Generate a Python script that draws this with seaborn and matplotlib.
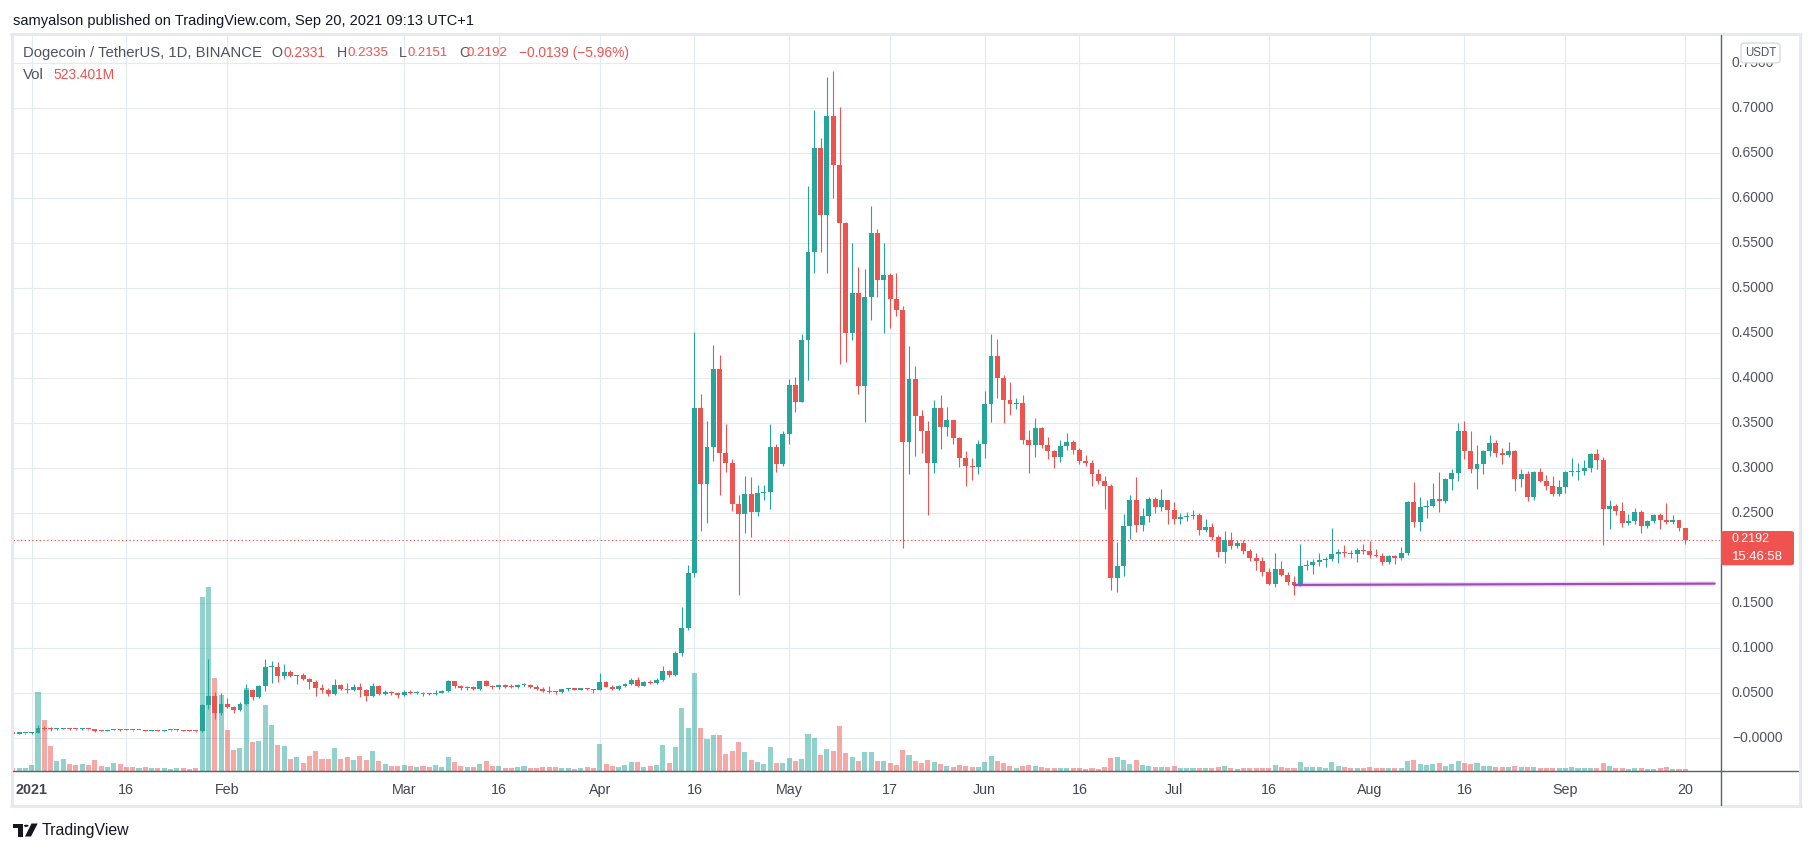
import numpy as np
import pandas as pd
import matplotlib
matplotlib.use("Agg")
import matplotlib.pyplot as plt
import matplotlib.dates as mdates
import matplotlib.transforms as mtrans
from matplotlib import font_manager
from matplotlib.lines import Line2D
from matplotlib.patches import FancyBboxPatch, Polygon, Circle
import seaborn as sns

# ---------------- data (DOGE/USDT, 1D, Binance) ----------------
first_open = 0.0047
close = [
    0.0046, 0.0047, 0.0047,  # Dec 29-31
    0.0057, 0.0105, 0.0098, 0.0096, 0.0099, 0.0103, 0.0096, 0.0093, 0.0101, 0.0094, 0.0076, 0.0075, 0.0082, 0.0089, 0.0084, 0.0083,
    0.0082, 0.0085, 0.0079, 0.0082, 0.0076, 0.0080, 0.0081, 0.0082, 0.0078, 0.0076, 0.0070, 0.0363, 0.0463, 0.0274, 0.0374,
    0.0341, 0.0308, 0.0374, 0.0530, 0.0452, 0.0574, 0.0785, 0.0790, 0.0685, 0.0730, 0.0685, 0.0696, 0.0652, 0.0619,
    0.0552, 0.0530, 0.0485, 0.0585, 0.0541, 0.0530, 0.0563, 0.0530, 0.0463, 0.0574, 0.0485, 0.0507, 0.0496, 0.0474,
    0.0507, 0.0496, 0.0502, 0.0485, 0.0480, 0.0500, 0.0518, 0.0630, 0.0574, 0.0552, 0.0563, 0.0541, 0.0630, 0.0574, 0.0563, 0.0585,
    0.0563, 0.0560, 0.0585, 0.0590, 0.0563, 0.0541, 0.0519, 0.0507, 0.0505, 0.0541, 0.0545, 0.0535, 0.0542, 0.0537, 0.0530,
    0.0615, 0.0565, 0.0541, 0.0570, 0.0596, 0.0641, 0.0574, 0.0619, 0.0612, 0.0641, 0.0741, 0.0696, 0.0937, 0.1219, 0.1830,
    0.3663, 0.2819, 0.3230, 0.4096, 0.3163, 0.3052, 0.2596, 0.2489, 0.2707, 0.2507, 0.2719, 0.2730, 0.3230, 0.3044, 0.3374,
    0.3919, 0.3734, 0.4419, 0.5397, 0.6552, 0.5811, 0.6908, 0.6367, 0.5715, 0.4500, 0.4941, 0.3912, 0.4896, 0.5608, 0.5089, 0.5141,
    0.4878, 0.4756, 0.3285, 0.3985, 0.3574, 0.3407, 0.3056, 0.3663, 0.3456, 0.3530, 0.3333, 0.3111, 0.3022, 0.3011, 0.3263,
    0.3707, 0.4241, 0.4000, 0.3756, 0.3711, 0.3722, 0.3311, 0.3256, 0.3441, 0.3256, 0.3189, 0.3122, 0.3241, 0.3285, 0.3200,
    0.3078, 0.3056, 0.2933, 0.2856, 0.2800, 0.1778, 0.1907, 0.2352, 0.2641, 0.2367, 0.2463, 0.2652, 0.2563, 0.2641, 0.2530,
    0.2433, 0.2452, 0.2467, 0.2470, 0.2311, 0.2340, 0.2233, 0.2067, 0.2196, 0.2133, 0.2163, 0.2078, 0.2000, 0.1967, 0.1844, 0.1711,
    0.1874, 0.1811, 0.1733, 0.1700, 0.1907, 0.1920, 0.1950, 0.1975, 0.1985, 0.2040, 0.2063, 0.2055, 0.2045, 0.2085, 0.2070,
    0.2030, 0.2020, 0.1956, 0.2019, 0.2000, 0.2052, 0.2620, 0.2396, 0.2563, 0.2574, 0.2650, 0.2634, 0.2874, 0.2940, 0.3408, 0.3189,
    0.2986, 0.3040, 0.3185, 0.3274, 0.3167, 0.3144, 0.3185, 0.2878, 0.2926, 0.2678, 0.2952, 0.2856, 0.2800, 0.2707, 0.2785,
    0.2952, 0.2955, 0.2963, 0.2996, 0.3152, 0.3089, 0.2545, 0.2574, 0.2522, 0.2389, 0.2407, 0.2504, 0.2356, 0.2407, 0.2474,
    0.2415, 0.2396, 0.2419, 0.2331, 0.2192,
]
high = [
    0.0048, 0.0049, 0.0050,
    0.0059, 0.0140, 0.0135, 0.0115, 0.0105, 0.0106, 0.0107, 0.0100, 0.0103, 0.0102, 0.0095, 0.0082, 0.0083, 0.0092, 0.0092, 0.0092,
    0.0086, 0.0086, 0.0089, 0.0087, 0.0084, 0.0081, 0.0083, 0.0084, 0.0084, 0.0080, 0.0078, 0.0375, 0.0874, 0.0507, 0.0493,
    0.0441, 0.0352, 0.0396, 0.0596, 0.0541, 0.0590, 0.0874, 0.0852, 0.0841, 0.0819, 0.0752, 0.0700, 0.0719, 0.0663,
    0.0641, 0.0596, 0.0552, 0.0652, 0.0596, 0.0607, 0.0596, 0.0607, 0.0541, 0.0607, 0.0585, 0.0530, 0.0518, 0.0507,
    0.0530, 0.0530, 0.0518, 0.0510, 0.0500, 0.0530, 0.0530, 0.0641, 0.0630, 0.0590, 0.0574, 0.0574, 0.0635, 0.0641, 0.0585, 0.0596,
    0.0596, 0.0596, 0.0596, 0.0607, 0.0596, 0.0585, 0.0563, 0.0574, 0.0519, 0.0545, 0.0555, 0.0555, 0.0555, 0.0550, 0.0545,
    0.0719, 0.0630, 0.0590, 0.0580, 0.0605, 0.0663, 0.0674, 0.0625, 0.0641, 0.0663, 0.0796, 0.0752, 0.0967, 0.1456, 0.1915,
    0.4504, 0.3819, 0.3519, 0.4363, 0.4252, 0.3485, 0.3096, 0.2696, 0.2907, 0.2896, 0.2807, 0.2807, 0.3485, 0.3263, 0.3407,
    0.3985, 0.4008, 0.4486, 0.6130, 0.6974, 0.6663, 0.7341, 0.7408, 0.7008, 0.5730, 0.5497, 0.5230, 0.5208, 0.5908, 0.5652, 0.5497,
    0.5163, 0.5163, 0.4796, 0.4352, 0.4130, 0.3640, 0.3520, 0.3752, 0.3807, 0.3674, 0.3530, 0.3340, 0.3181, 0.3107, 0.3307,
    0.3852, 0.4485, 0.4430, 0.4030, 0.3952, 0.3774, 0.3807, 0.3419, 0.3552, 0.3456, 0.3340, 0.3196, 0.3307, 0.3385, 0.3307,
    0.3215, 0.3141, 0.3085, 0.2985, 0.2907, 0.2819, 0.2174, 0.2485, 0.2696, 0.2896, 0.2552, 0.2674, 0.2674, 0.2763, 0.2641,
    0.2619, 0.2496, 0.2507, 0.2530, 0.2496, 0.2430, 0.2385, 0.2252, 0.2300, 0.2285, 0.2193, 0.2193, 0.2100, 0.2052, 0.2011, 0.1885,
    0.2052, 0.1963, 0.1841, 0.1800, 0.2150, 0.1970, 0.1990, 0.2050, 0.2007, 0.2333, 0.2100, 0.2140, 0.2080, 0.2110, 0.2150,
    0.2190, 0.2100, 0.2050, 0.2030, 0.2030, 0.2120, 0.2635, 0.2845, 0.2674, 0.2640, 0.2830, 0.2950, 0.2885, 0.2990, 0.3500, 0.3523,
    0.3408, 0.3250, 0.3197, 0.3363, 0.3310, 0.3220, 0.3285, 0.3196, 0.2989, 0.2960, 0.2960, 0.2996, 0.2918, 0.2904, 0.2867,
    0.2960, 0.3107, 0.3056, 0.3085, 0.3160, 0.3207, 0.3118, 0.2641, 0.2596, 0.2619, 0.2485, 0.2552, 0.2530, 0.2419, 0.2485,
    0.2493, 0.2608, 0.2474, 0.2419, 0.2335,
]
low = [
    0.0045, 0.0045, 0.0044,
    0.0046, 0.0055, 0.0090, 0.0078, 0.0088, 0.0092, 0.0090, 0.0082, 0.0091, 0.0086, 0.0066, 0.0070, 0.0070, 0.0080, 0.0079, 0.0081,
    0.0076, 0.0080, 0.0077, 0.0075, 0.0070, 0.0071, 0.0078, 0.0079, 0.0077, 0.0072, 0.0068, 0.0068, 0.0315, 0.0207, 0.0255,
    0.0330, 0.0271, 0.0300, 0.0363, 0.0419, 0.0441, 0.0519, 0.0607, 0.0619, 0.0652, 0.0674, 0.0596, 0.0641, 0.0541,
    0.0463, 0.0497, 0.0463, 0.0474, 0.0530, 0.0497, 0.0519, 0.0452, 0.0408, 0.0452, 0.0474, 0.0474, 0.0474, 0.0441,
    0.0463, 0.0485, 0.0485, 0.0463, 0.0474, 0.0478, 0.0495, 0.0507, 0.0552, 0.0530, 0.0530, 0.0530, 0.0535, 0.0570, 0.0541, 0.0541,
    0.0552, 0.0555, 0.0552, 0.0578, 0.0552, 0.0530, 0.0510, 0.0497, 0.0485, 0.0497, 0.0522, 0.0525, 0.0525, 0.0525, 0.0497,
    0.0528, 0.0560, 0.0535, 0.0530, 0.0560, 0.0585, 0.0563, 0.0570, 0.0600, 0.0600, 0.0630, 0.0674, 0.0690, 0.0907, 0.1200,
    0.1785, 0.2300, 0.2385, 0.3074, 0.2696, 0.2952, 0.2519, 0.1589, 0.2278, 0.2233, 0.2467, 0.2644, 0.2541, 0.2952, 0.3020,
    0.3263, 0.3623, 0.3734, 0.3974, 0.5167, 0.5401, 0.5167, 0.6000, 0.4156, 0.4178, 0.4422, 0.3823, 0.3512, 0.4645, 0.4900, 0.4500,
    0.4556, 0.4680, 0.2111, 0.2930, 0.3133, 0.3163, 0.2474, 0.2944, 0.3210, 0.3356, 0.3267, 0.3004, 0.2800, 0.2867, 0.2933,
    0.3111, 0.3511, 0.3770, 0.3500, 0.3589, 0.3656, 0.3267, 0.2944, 0.3122, 0.3222, 0.3100, 0.3000, 0.3067, 0.3200, 0.3156,
    0.3044, 0.3022, 0.2800, 0.2819, 0.2541, 0.1644, 0.1622, 0.1800, 0.2211, 0.2289, 0.2300, 0.2400, 0.2500, 0.2522, 0.2374,
    0.2374, 0.2378, 0.2411, 0.2430, 0.2256, 0.2289, 0.2200, 0.2011, 0.1944, 0.2093, 0.2104, 0.2037, 0.1967, 0.1867, 0.1800, 0.1700,
    0.1678, 0.1800, 0.1700, 0.1589, 0.1680, 0.1860, 0.1820, 0.1910, 0.1900, 0.1960, 0.1940, 0.2010, 0.2000, 0.1950, 0.2045,
    0.1997, 0.2010, 0.1920, 0.1930, 0.1930, 0.1975, 0.2030, 0.2340, 0.2300, 0.2445, 0.2560, 0.2510, 0.2612, 0.2750, 0.2856, 0.3097,
    0.2945, 0.2763, 0.2930, 0.3130, 0.3122, 0.3045, 0.3122, 0.2745, 0.2789, 0.2633, 0.2640, 0.2845, 0.2752, 0.2685, 0.2685,
    0.2719, 0.2907, 0.2863, 0.2919, 0.2952, 0.2989, 0.2144, 0.2322, 0.2478, 0.2344, 0.2363, 0.2374, 0.2274, 0.2333, 0.2389,
    0.2318, 0.2378, 0.2374, 0.2296, 0.2151,
]
# volume in billions of DOGE (last bar = 523.401M)
volume = [
    0.68, 0.68, 0.68,
    1.4, 17.9, 11.6, 5.7, 2.3, 2.7, 1.6, 1.4, 1.6, 1.4, 2.5, 1.1, 0.91, 1.8, 1.6, 0.91,
    0.91, 0.68, 0.91, 0.68, 0.68, 0.68, 0.45, 0.68, 0.68, 0.45, 0.68, 39.5, 41.8, 21.1, 17.3,
    9.3, 4.8, 5.2, 18.8, 6.6, 6.8, 15.0, 10.4, 5.9, 5.7, 2.7, 3.2, 1.8, 3.4,
    4.5, 2.7, 2.7, 5.2, 2.7, 3.2, 2.5, 3.4, 2.5, 4.5, 2.3, 1.6, 1.1, 1.1,
    1.4, 1.1, 0.91, 1.1, 0.91, 1.4, 0.91, 3.2, 2.0, 1.1, 0.91, 0.91, 1.6, 2.3, 1.1, 1.1,
    0.68, 0.68, 0.91, 1.1, 0.68, 0.68, 0.91, 0.91, 0.91, 0.68, 0.68, 0.45, 0.68, 0.91, 0.68,
    6.1, 1.6, 1.1, 0.91, 1.4, 2.0, 2.0, 0.91, 1.1, 1.4, 5.9, 1.8, 5.4, 14.3, 9.8,
    22.2, 9.8, 7.3, 8.2, 8.2, 3.9, 4.5, 6.6, 4.3, 2.5, 2.0, 1.6, 5.4, 1.8, 1.8,
    3.0, 2.3, 2.7, 8.4, 7.5, 3.6, 5.0, 4.5, 10.2, 4.1, 3.2, 2.3, 4.3, 4.3, 2.3, 2.3,
    1.8, 1.4, 4.8, 3.6, 2.3, 1.8, 2.5, 2.0, 1.6, 1.1, 0.91, 1.4, 1.1, 0.91, 0.91,
    2.0, 3.4, 2.3, 1.8, 1.1, 0.68, 1.1, 1.4, 1.1, 0.91, 0.68, 0.68, 0.68, 0.68, 0.68,
    0.68, 0.45, 0.68, 0.45, 0.91, 3.0, 3.2, 2.5, 1.6, 2.5, 1.4, 1.1, 0.91, 0.91, 0.91,
    1.1, 0.68, 0.68, 0.68, 0.68, 0.68, 0.68, 0.91, 1.1, 0.68, 0.45, 0.68, 0.68, 0.68, 0.68, 0.68,
    1.4, 0.91, 0.68, 0.68, 2.0, 0.91, 0.91, 0.91, 0.68, 2.0, 1.1, 0.91, 0.68, 0.68, 0.68,
    0.91, 0.68, 0.68, 0.68, 0.68, 0.68, 2.3, 2.5, 1.6, 1.4, 1.6, 1.8, 1.1, 1.6, 2.3, 1.8,
    1.6, 1.8, 1.1, 1.1, 0.91, 0.91, 0.91, 1.1, 0.91, 0.91, 0.91, 0.68, 0.68, 0.68, 0.68,
    0.68, 0.91, 0.68, 0.68, 0.68, 0.68, 1.8, 1.1, 0.68, 0.68, 0.45, 0.68, 0.68, 0.45, 0.45,
    0.68, 0.91, 0.45, 0.45, 0.523,
]
tick_dates = ["2021-01-01", "2021-01-16", "2021-02-01", "2021-03-01", "2021-03-16", "2021-04-01",
              "2021-04-16", "2021-05-01", "2021-05-17", "2021-06-01", "2021-06-16", "2021-07-01",
              "2021-07-16", "2021-08-01", "2021-08-16", "2021-09-01", "2021-09-20"]
tick_labels = ["2021", "16", "Feb", "Mar", "16", "Apr", "16", "May", "17", "Jun", "16", "Jul",
               "16", "Aug", "16", "Sep", "20"]
price_ticks = [0.00, 0.05, 0.10, 0.15, 0.20, 0.25, 0.30, 0.35, 0.40, 0.45, 0.50, 0.55, 0.60, 0.65, 0.70, 0.75]
support_dates = ["2021-07-20 00:00", "2021-09-24 16:00"]
support_prices = [0.1697, 0.1712]

dates = pd.date_range("2020-12-29", "2021-09-20", freq="D")
close = np.array(close); high = np.array(high); low = np.array(low); volume = np.array(volume)
assert len(close) == len(high) == len(low) == len(volume) == len(dates)
opens = np.r_[first_open, close[:-1]]

# ---------------- style ----------------
UP, DOWN = "#26a69a", "#ef5350"
GRID = "#e2ebf1"
AXIS_TXT = "#50535e"
PURPLE = "#a24bbd"

sns.set_style("white")
names = {f.name for f in font_manager.fontManager.ttflist}
FONT = "Liberation Sans" if "Liberation Sans" in names else "DejaVu Sans"
plt.rcParams["font.family"] = [FONT, "DejaVu Sans"]

W, H, DPI = 1813, 851, 100
fig = plt.figure(figsize=(W / DPI, H / DPI), dpi=DPI)
fig.patch.set_facecolor("white")
renderer = fig.canvas.get_renderer()


def fx(x):
    return x / W


def fy(y):
    return 1 - y / H


PX = 72 / DPI  # points per pixel
L, R, T, B = 12.5, 1720, 34.5, 771
ax = fig.add_axes([fx(L), fy(B), fx(R) - fx(L), fy(T) - fy(B)])

jan1 = mdates.date2num(pd.Timestamp("2021-01-01"))
ax.set_xlim(jan1 - 3.04, jan1 + 267.5)
ymin, ymax = -0.0370, 0.7813
ax.set_ylim(ymin, ymax)

xs = mdates.date2num(dates)
up = close >= opens
cols = np.where(up, UP, DOWN)

# volume overlay (bottom quarter of the pane)
vol_h = volume / volume.max() * 0.2498 * (ymax - ymin)
vcols = [(0.149, 0.651, 0.604, 0.5) if u else (0.937, 0.325, 0.314, 0.5) for u in up]
ax.bar(xs, vol_h, bottom=ymin, width=0.8, color=vcols, linewidth=0, zorder=1)

# candles
ax.vlines(xs, low, high, colors=cols, lw=1.1 * PX, zorder=3)
body_lo = np.minimum(opens, close)
body_h = np.maximum(np.abs(close - opens), 0.0012)
ax.bar(xs, body_h, bottom=body_lo, width=0.78, color=cols, linewidth=0, zorder=4)

# last price dotted line
ax.axhline(close[-1], color=DOWN, lw=1.1 * PX, ls=(0, (1.2, 2.2)), zorder=2)

# support trend line
sx = mdates.date2num(pd.to_datetime(support_dates, format="%Y-%m-%d %H:%M"))
ax.plot(sx, support_prices, color=PURPLE, lw=5 * PX, alpha=0.18, zorder=5, solid_capstyle="butt")
sns.lineplot(x=sx, y=support_prices, ax=ax, color=PURPLE, lw=2.2 * PX, zorder=6)

# grid
ax.set_xticks(mdates.date2num(pd.to_datetime(tick_dates)))
ax.set_yticks(price_ticks)
ax.grid(True, color=GRID, lw=1.1 * PX, zorder=0)
ax.set_axisbelow(True)
ax.tick_params(length=0, labelleft=False, labelbottom=False)
ax.set_xlabel(""); ax.set_ylabel("")
for s in ax.spines.values():
    s.set_visible(False)

# time-axis labels
tx = mtrans.blended_transform_factory(ax.transData, fig.transFigure)
for d, lab in zip(tick_dates, tick_labels):
    ax.text(mdates.date2num(pd.Timestamp(d)), fy(790), lab, transform=tx, ha="center", va="center",
            fontsize=10.3, color="#434651", fontweight="bold" if lab == "2021" else "normal", clip_on=False)

# price-axis labels (the one hidden behind the last-price marker is not drawn)
ty = mtrans.blended_transform_factory(fig.transFigure, ax.transData)
for p in price_ticks:
    if abs(p - close[-1]) < 0.03:
        continue
    lab = "\u22120.0000" if p == 0 else f"{p:.4f}"
    ax.text(fx(1732), p, lab, transform=ty, ha="left", va="center", fontsize=10,
            color=AXIS_TXT, clip_on=False, zorder=1)


# frame lines
def hline(y, x0, x1, color, lw):
    fig.add_artist(Line2D([fx(x0), fx(x1)], [fy(y), fy(y)], color=color, lw=lw * PX, zorder=5))


def vline(x, y0, y1, color, lw):
    fig.add_artist(Line2D([fx(x), fx(x)], [fy(y0), fy(y1)], color=color, lw=lw * PX, zorder=5))


FRAME = "#e6e9ef"
hline(33.5, 11, 1800.5, FRAME, 3)
hline(806, 11, 1800.5, FRAME, 3)
vline(11.5, 33.5, 806, FRAME, 3)
vline(1799.5, 33.5, 806, FRAME, 3)
hline(771, 12.5, 1798, "#5d606b", 1.4)
vline(1720.5, 35, 805, "#5d606b", 1.4)

# USDT currency box
fig.add_artist(FancyBboxPatch((fx(1741), fy(63)), fx(39), 20 / H, boxstyle="round,pad=0,rounding_size=0.003",
                              transform=fig.transFigure, facecolor="white", edgecolor="#d1d4dc",
                              lw=1.2 * PX, zorder=6))
fig.text(fx(1760.5), fy(53), "USDT", ha="center", va="center", fontsize=8.3, color=AXIS_TXT, zorder=7)

# last price label
fig.add_artist(FancyBboxPatch((fx(1721), fy(565.3)), fx(73), 34.3 / H, boxstyle="round,pad=0,rounding_size=0.002",
                              transform=fig.transFigure, facecolor=DOWN, edgecolor="none", zorder=6))


# header / legend text
def put(x, y, s, color, width=None, size=10, weight="normal"):
    t = fig.text(fx(x), fy(y), s, ha="left", va="center", fontsize=size, color=color, fontweight=weight, zorder=7)
    if width:
        w = t.get_window_extent(renderer).width
        t.set_fontsize(size * width / w)
    return t


put(1732, 539.3, f"{close[-1]:.4f}", "white", width=38)
put(1732, 557.2, "15:46:58", "white", width=51)

LEG = "#50535e"
put(13.4, 20.5, "samyalson published on TradingView.com, Sep 20, 2021 09:13 UTC+1", "#131722", width=461)
put(23, 53.3, "Dogecoin / TetherUS, 1D, BINANCE", LEG, width=239)
for lx, letter, vx, val, vw in [(271, "O", 283, "0.2331", 42), (337, "H", 347, "0.2335", 41),
                                (399, "L", 408, "0.2151", 40), (459, "C", 467, "0.2192", 41)]:
    put(lx, 53.3, letter, LEG, size=10.3)
    put(vx, 53.3, val, DOWN, width=vw)
put(519, 53.3, "\u22120.0139 (\u22125.96%)", DOWN, width=110)
put(23, 75, "Vol", LEG, width=21)
put(53.6, 75, "523.401M", DOWN, width=61)

# TradingView logo: icon drawn from simple shapes, then the word mark
INK = "#131722"


def fpoly(pts):
    fig.add_artist(Polygon([(fx(a), fy(b)) for a, b in pts], closed=True, transform=fig.transFigure,
                           facecolor=INK, edgecolor="none", zorder=7))


fpoly([(13.3, 823.5), (22.5, 823.5), (22.5, 836.5), (18.2, 836.5), (18.2, 828), (13.3, 828)])
fig.add_artist(Circle((fx(26.2), fy(825.8)), 2.3 / W, transform=fig.transFigure, facecolor=INK,
                      edgecolor="none", zorder=7))
fpoly([(31.5, 823.5), (37.7, 823.5), (31.0, 836.5), (25.0, 836.5)])
put(42, 830.5, "TradingView", INK, width=88)

fig.savefig("out.png", dpi=DPI, facecolor="white")
